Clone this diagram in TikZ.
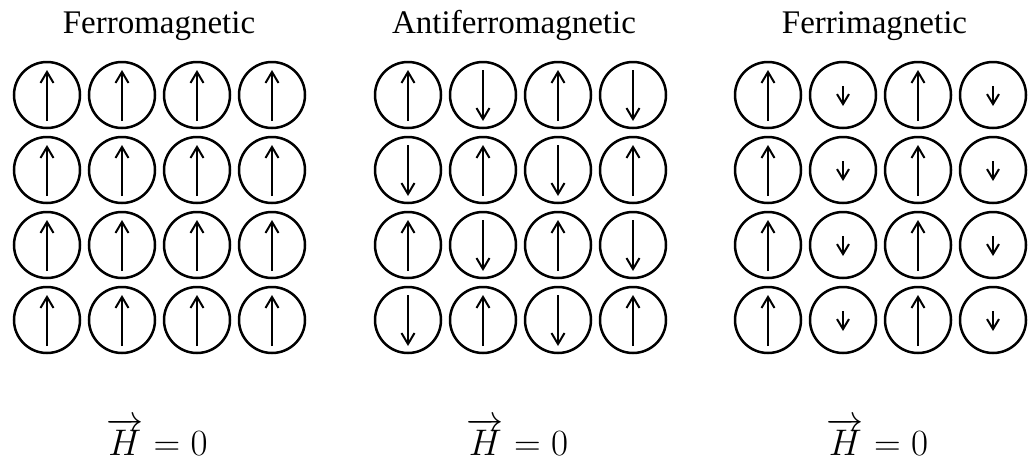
\documentclass[tikz,border=0pt]{standalone}
\usepackage{graphicx}
\usepackage{fontspec}
\setmainfont{Liberation Serif}
\usetikzlibrary{arrows.meta}
\begin{document}
\begin{tikzpicture}[x=1pt,y=-1pt,
  site/.style={circle,draw,line width=2.5pt,minimum size=66pt,inner sep=0pt},
  spin/.style={line width=2pt,-{Straight Barb[length=11pt,width=13pt]}},
  smallspin/.style={line width=2pt,-{Straight Barb[length=10pt,width=12pt]}},
  title/.style={font=\fontsize{33}{40}\selectfont,anchor=base,inner sep=0pt},
  field/.style={font=\fontsize{24.88}{30}\selectfont,anchor=base,inner sep=0pt}]
\useasboundingbox (0,0) rectangle (1028,461);
% titles
\node[title] (tf) at (159,33) {Ferromagnetic};
\node[title] (ta) at (514,33) {Antiferromagnetic};
\node[title] (tr) at (874.5,33) {Ferrimagnetic};
% lattice sites
\foreach \g/\xo in {f/47,a/408,r/768}
  \foreach \i in {1,...,4}
    \foreach \j in {1,...,4}
      \node[site] (\g\i\j) at ({\xo+75*(\j-1)},{95+75*(\i-1)}) {};
% spins
\foreach \i in {1,...,4}
  \foreach \j in {1,...,4}{
    % ferromagnetic
    \draw[spin] ([yshift=-26pt]f\i\j.center) -- ([yshift=25pt]f\i\j.center);
    % antiferromagnetic
    \pgfmathtruncatemacro\myparity{mod(\i+\j,2)}
    \ifnum\myparity=0
      \draw[spin] ([yshift=-26pt]a\i\j.center) -- ([yshift=25pt]a\i\j.center);
    \else
      \draw[spin] ([yshift=25pt]a\i\j.center) -- ([yshift=-26pt]a\i\j.center);
    \fi
    % ferrimagnetic
    \pgfmathtruncatemacro\mycol{mod(\j,2)}
    \ifnum\mycol=1
      \draw[spin] ([yshift=-26pt]r\i\j.center) -- ([yshift=25pt]r\i\j.center);
    \else
      \draw[smallspin] ([yshift=9pt]r\i\j.center) -- ([yshift=-11pt]r\i\j.center);
    \fi
  }
% field labels
\node[field] (hf) at (157,455) {\scalebox{1.487}{$\overrightarrow{H} = 0$}};
\node[field] (ha) at (517.5,455) {\scalebox{1.487}{$\overrightarrow{H} = 0$}};
\node[field] (hr) at (877.5,455) {\scalebox{1.487}{$\overrightarrow{H} = 0$}};
\end{tikzpicture}
\end{document}
